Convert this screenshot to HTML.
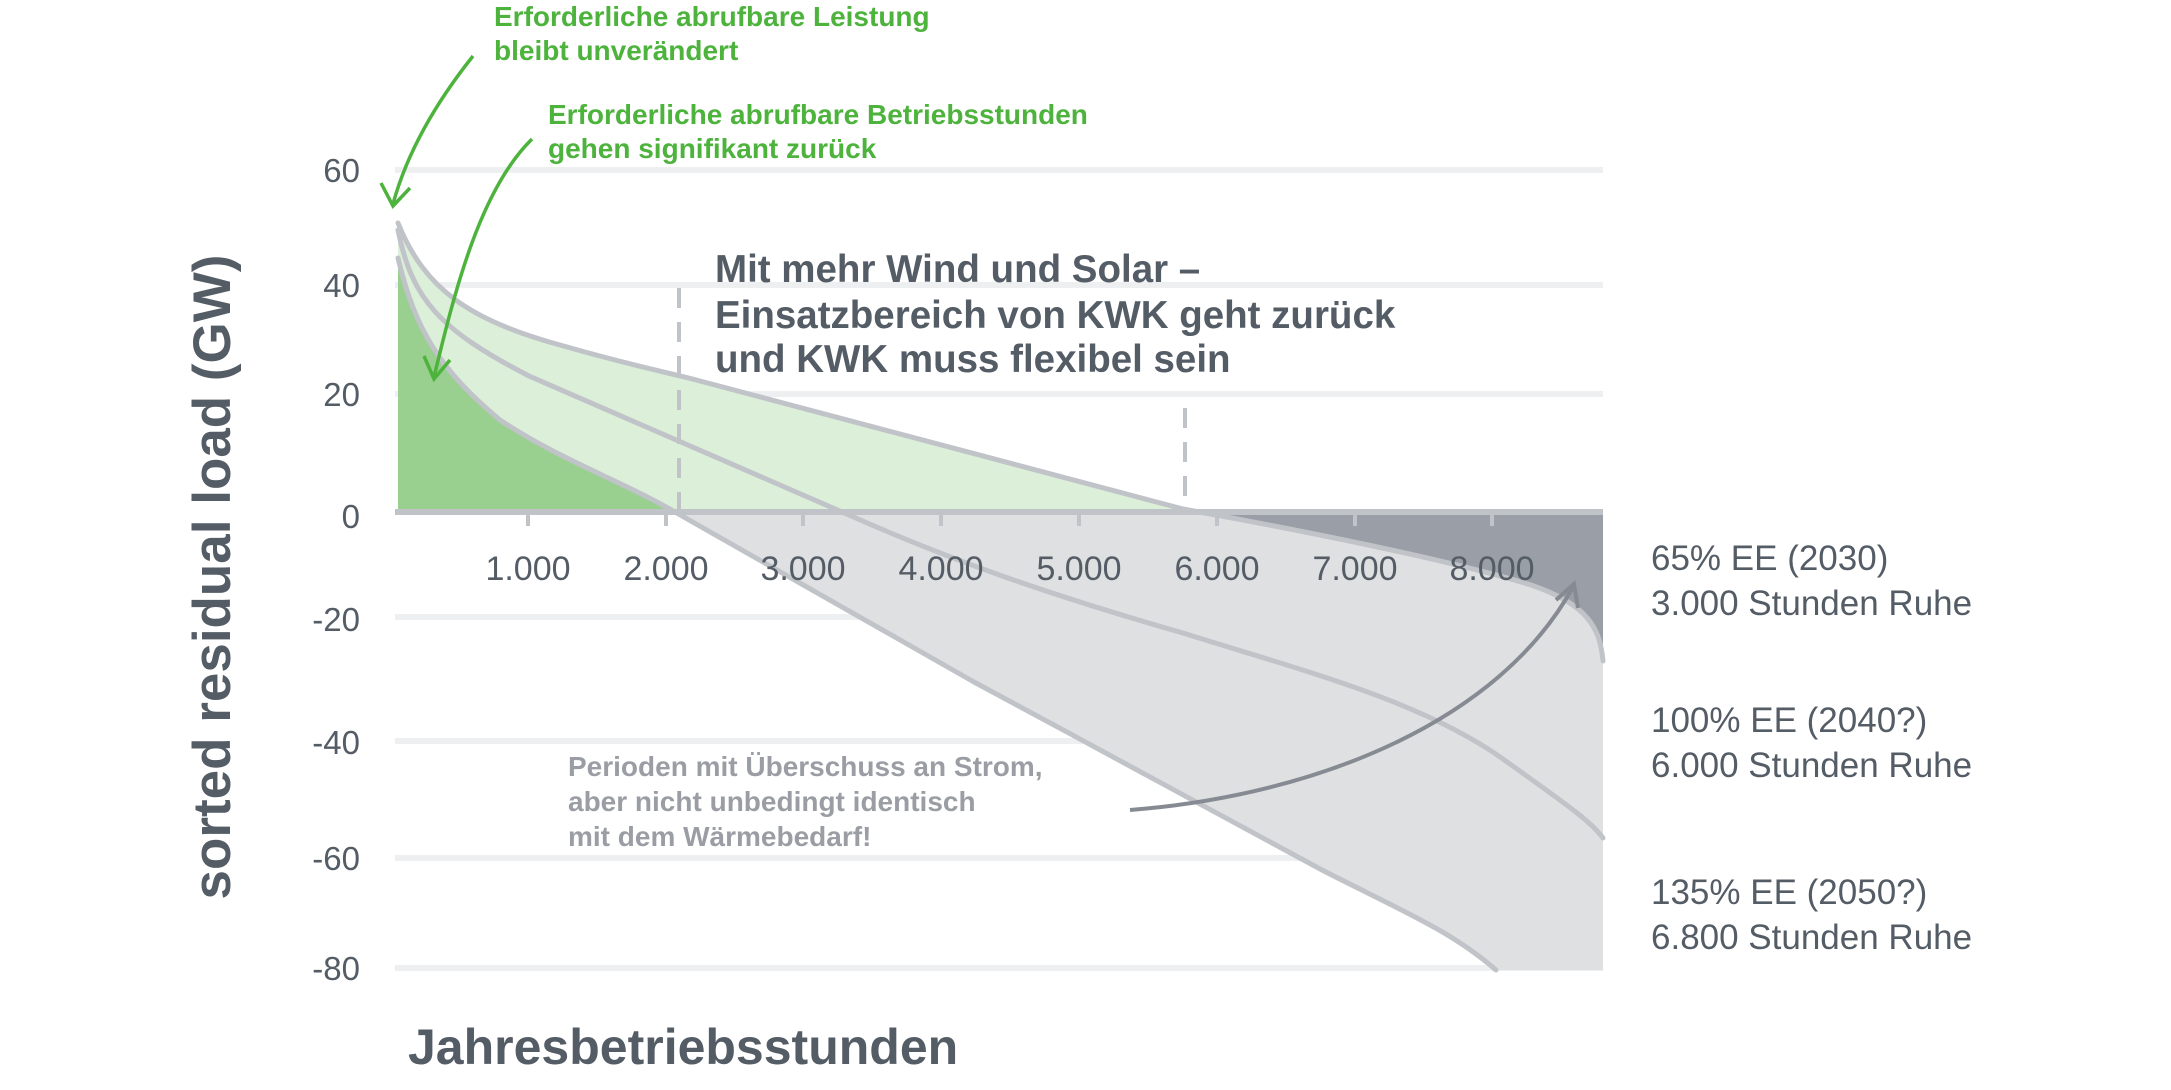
<!DOCTYPE html>
<html><head><meta charset="utf-8"><style>
html,body{margin:0;padding:0;background:#fff;}
svg{display:block;font-family:"Liberation Sans",sans-serif;}
</style></head><body>
<svg width="2171" height="1090" viewBox="0 0 2171 1090" xmlns="http://www.w3.org/2000/svg">
<g stroke="#eeeff1" stroke-width="6">
<line x1="395" y1="170" x2="1603" y2="170"/>
<line x1="395" y1="285" x2="1603" y2="285"/>
<line x1="395" y1="394" x2="1603" y2="394"/>
<line x1="395" y1="617" x2="1603" y2="617"/>
<line x1="395" y1="741" x2="1603" y2="741"/>
<line x1="395" y1="858" x2="1603" y2="858"/>
<line x1="395" y1="968" x2="1603" y2="968"/>
</g>
<path d="M675,512 L974,682 C1100,750 1250,830 1322,870 C1400,910 1450,930 1496,970 L1603,970 L1603,512 Z" fill="#dfe0e2"/>
<path d="M1190,509 L1603,509 L1603,661 C1600,630 1590,605 1531,585 C1450,560 1300,530 1190,509 Z" fill="#9a9ea6"/>
<path d="M398,223 C425,290 470,320 560,345 C640,368 680,375 700,381 L1183,509 L398,512 Z" fill="#dcefd9"/>
<path d="M398,258 C415,330 440,370 500,420 C560,460 620,480 675,512 L398,512 Z" fill="#99d08f"/>
<line x1="395" y1="512" x2="1603" y2="512" stroke="#c0c3c8" stroke-width="6"/>
<g stroke="#c0c3c8" stroke-width="4">
<line x1="528" y1="512" x2="528" y2="526"/><line x1="666" y1="512" x2="666" y2="526"/>
<line x1="803" y1="512" x2="803" y2="526"/><line x1="941" y1="512" x2="941" y2="526"/>
<line x1="1079" y1="512" x2="1079" y2="526"/><line x1="1217" y1="512" x2="1217" y2="526"/>
<line x1="1355" y1="512" x2="1355" y2="526"/><line x1="1492" y1="512" x2="1492" y2="526"/>
</g>
<g stroke="#c0c3c8" stroke-width="4" stroke-dasharray="20,14">
<line x1="679" y1="288" x2="679" y2="512"/>
<line x1="1185" y1="408" x2="1185" y2="512"/>
</g>
<g fill="none" stroke="#c0c3c8" stroke-width="5" stroke-linecap="round" stroke-linejoin="round">
<path d="M398,223 C425,290 470,320 560,345 C640,368 680,375 700,381 L1183,509 C1300,530 1450,560 1531,585 C1590,605 1600,630 1603,661"/>
<path d="M398,230 C412,300 440,330 529,376 L849,515 C950,560 1050,595 1183,633 C1300,670 1420,700 1503,759 C1560,800 1590,820 1603,838"/>
<path d="M398,258 C415,330 440,370 500,420 C560,460 620,480 675,512 L974,682 C1100,750 1250,830 1322,870 C1400,910 1450,930 1496,970"/>
</g>
<g fill="#545c66" font-size="33" text-anchor="end">
<text x="360" y="182">60</text><text x="360" y="297">40</text><text x="360" y="406">20</text>
<text x="360" y="528">0</text><text x="360" y="631">-20</text><text x="360" y="754">-40</text>
<text x="360" y="870">-60</text><text x="360" y="980">-80</text>
</g>
<g fill="#545c66" font-size="34" text-anchor="middle">
<text x="528" y="580">1.000</text><text x="666" y="580">2.000</text><text x="803" y="580">3.000</text>
<text x="941" y="580">4.000</text><text x="1079" y="580">5.000</text><text x="1217" y="580">6.000</text>
<text x="1355" y="580">7.000</text><text x="1492" y="580">8.000</text>
</g>
<text transform="translate(230,577) rotate(-90)" text-anchor="middle" fill="#545c66" font-size="53" font-weight="bold">sorted residual load (GW)</text>
<text x="408" y="1064" fill="#545c66" font-size="50" font-weight="bold">Jahresbetriebsstunden</text>
<g fill="#545c66" font-size="38.5" font-weight="bold">
<text x="715" y="282">Mit mehr Wind und Solar –</text>
<text x="715" y="328">Einsatzbereich von KWK geht zurück</text>
<text x="715" y="372">und KWK muss flexibel sein</text>
</g>
<g fill="#4db33d" font-size="28" font-weight="bold">
<text x="494" y="26">Erforderliche abrufbare Leistung</text>
<text x="494" y="60">bleibt unverändert</text>
<text x="548" y="124">Erforderliche abrufbare Betriebsstunden</text>
<text x="548" y="158">gehen signifikant zurück</text>
</g>
<g fill="none" stroke="#4db33d" stroke-width="3.5">
<path d="M473,56 C430,110 405,160 393,204"/>
<path d="M381,183 L393,206 L410,188"/>
<path d="M532,139 C480,190 455,290 434,377"/>
<path d="M424,356 L434,379 L450,360"/>
</g>
<g fill="#9a9ea4" font-size="28" font-weight="bold">
<text x="568" y="776">Perioden mit Überschuss an Strom,</text>
<text x="568" y="811">aber nicht unbedingt identisch</text>
<text x="568" y="846">mit dem Wärmebedarf!</text>
</g>
<path d="M1130,810 C1320,795 1500,720 1573,587" fill="none" stroke="#868b93" stroke-width="4"/>
<path d="M1556,600 L1574,584 L1578,608" fill="none" stroke="#868b93" stroke-width="4"/>
<g fill="#545c66" font-size="35">
<text x="1651" y="570">65% EE (2030)</text><text x="1651" y="615">3.000 Stunden Ruhe</text>
<text x="1651" y="732">100% EE (2040?)</text><text x="1651" y="777">6.000 Stunden Ruhe</text>
<text x="1651" y="904">135% EE (2050?)</text><text x="1651" y="949">6.800 Stunden Ruhe</text>
</g>
</svg>
</body></html>
